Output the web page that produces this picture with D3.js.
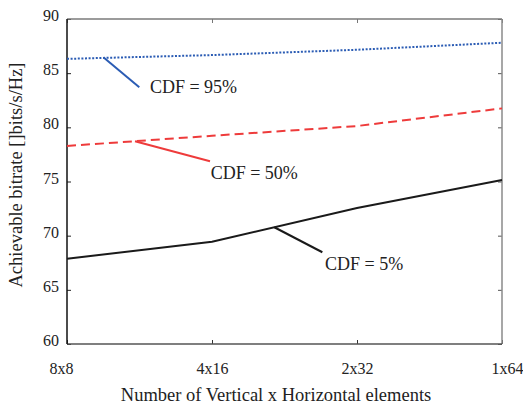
<!DOCTYPE html>
<html>
<head>
<meta charset="utf-8">
<script src="https://cdn.jsdelivr.net/npm/d3@7/dist/d3.min.js"></script>
<style>
  html, body { margin: 0; padding: 0; background: #fff; }
  svg { display: block; font-family: "Liberation Serif", "Times New Roman", serif; }
</style>
</head>
<body>
<svg id="chart" width="523" height="405"></svg>
<script>
// Antenna array configurations (vertical x horizontal elements)
const categories = ["8x8", "4x16", "2x32", "1x64"];

// Achievable bitrate at three points of the CDF
const cdf95 = [86.32, 86.67, 87.16, 87.81];
const cdf50 = [78.28, 79.22, 80.12, 81.75];
const cdf5  = [67.87, 69.44, 72.55, 75.13];

const yTicks = [60, 65, 70, 75, 80, 85, 90];
const seriesLabels = ["CDF = 95%", "CDF = 50%", "CDF = 5%"];

const xTitle = "Number of Vertical x Horizontal elements";
const yTitle = "Achievable bitrate []bits/s/Hz]";

// ---- layout ----
const plotLeft = 67, plotRight = 502, plotTop = 19, plotBottom = 344;

const svg = d3.select("#chart");

const x = d3.scalePoint().domain(categories).range([plotLeft, plotRight]);
const y = d3.scaleLinear().domain([60, 90]).range([plotBottom, plotTop]);

const series = [
  { values: cdf95, label: seriesLabels[0], color: "#2b5cb4", dash: "2,1.6", width: 2 },
  { values: cdf50, label: seriesLabels[1], color: "#ee3b3b", dash: "9,5", width: 2 },
  { values: cdf5,  label: seriesLabels[2], color: "#1a1a1a", dash: null, width: 2 }
];

// Leader-line placement: anchor along the curve (in category steps),
// end-point offset and text offset from the leader end.
const leaders = [
  { at: 0.257, dx: 35, dy: 29.4, tx: 10.7, ty: 6 },
  { at: 0.469, dx: 75, dy: 20,   tx: 0.7,  ty: 18.3 },
  { at: 1.43,  dx: 48, dy: 25,   tx: 2.7,  ty: 17.7 }
];

// ---- axes (ticks point inward) ----
const fontSize = 16;

const gLeft = svg.append("g").attr("transform", `translate(${plotLeft},0)`)
  .call(d3.axisLeft(y).tickValues(yTicks).tickSize(-4).tickPadding(8));
gLeft.select(".domain").remove();
gLeft.selectAll(".tick line").attr("stroke", "#222");
gLeft.selectAll(".tick text")
  .attr("font-size", fontSize).attr("font-family", "Liberation Serif")
  .attr("fill", "#222").attr("dy", "0.1em");

const gBottom = svg.append("g").attr("transform", `translate(0,${plotBottom})`)
  .call(d3.axisBottom(x).tickSize(-4).tickPadding(19));
gBottom.select(".domain").remove();
gBottom.selectAll(".tick line").attr("stroke", "#333");
gBottom.selectAll(".tick text")
  .attr("font-size", fontSize).attr("font-family", "Liberation Serif")
  .attr("fill", "#222")
  // outer labels sit slightly outside the end ticks
  .attr("dx", (d, i) => i === 0 ? -6 : (i === categories.length - 1 ? 5 : 0));

const gTop = svg.append("g").attr("transform", `translate(0,${plotTop})`)
  .call(d3.axisTop(x).tickSize(-4).tickFormat(""));
gTop.select(".domain").remove();
gTop.selectAll(".tick line").attr("stroke", "#777");

const gRight = svg.append("g").attr("transform", `translate(${plotRight},0)`)
  .call(d3.axisRight(y).tickValues(yTicks).tickSize(-4).tickFormat(""));
gRight.select(".domain").remove();
gRight.selectAll(".tick line").attr("stroke", "#555");

// frame
const frame = svg.append("g").attr("fill", "none").attr("stroke-width", 1.5);
frame.append("line").attr("x1", plotLeft).attr("x2", plotRight).attr("y1", plotTop).attr("y2", plotTop).attr("stroke", "#7a7a7a");
frame.append("line").attr("x1", plotRight).attr("x2", plotRight).attr("y1", plotTop).attr("y2", plotBottom).attr("stroke", "#8a8a8a");
frame.append("line").attr("x1", plotLeft).attr("x2", plotRight).attr("y1", plotBottom).attr("y2", plotBottom).attr("stroke", "#555");
frame.append("line").attr("x1", plotLeft).attr("x2", plotLeft).attr("y1", plotTop).attr("y2", plotBottom).attr("stroke", "#111");

// ---- series ----
const line = d3.line()
  .x((d, i) => x(categories[i]))
  .y(d => y(d));

svg.append("g").selectAll("path")
  .data(series)
  .join("path")
  .attr("d", s => line(s.values))
  .attr("fill", "none")
  .attr("stroke", s => s.color)
  .attr("stroke-width", s => s.width)
  .attr("stroke-dasharray", s => s.dash);

// ---- leader lines and labels ----
function pointAt(values, t) {
  const i = Math.min(Math.floor(t), values.length - 2);
  const f = t - i;
  const px = x(categories[i]) + f * x.step();
  const py = y(values[i] + f * (values[i + 1] - values[i]));
  return [px, py];
}

series.forEach((s, k) => {
  const L = leaders[k];
  const [px, py] = pointAt(s.values, L.at);
  const ex = px + L.dx, ey = py + L.dy;
  svg.append("line")
    .attr("x1", px).attr("y1", py).attr("x2", ex).attr("y2", ey)
    .attr("stroke", s.color).attr("stroke-width", 2);
  svg.append("text")
    .attr("x", ex + L.tx).attr("y", ey + L.ty)
    .attr("font-size", 18).attr("fill", "#222")
    .text(s.label);
});

// ---- titles ----
svg.append("text")
  .attr("x", 276).attr("y", 401)
  .attr("text-anchor", "middle")
  .attr("font-size", 18.5).attr("fill", "#222")
  .text(xTitle);

svg.append("text")
  .attr("transform", "translate(22,175) rotate(-90)")
  .attr("text-anchor", "middle")
  .attr("font-size", 18.5).attr("fill", "#222")
  .text(yTitle);
</script>
</body>
</html>
